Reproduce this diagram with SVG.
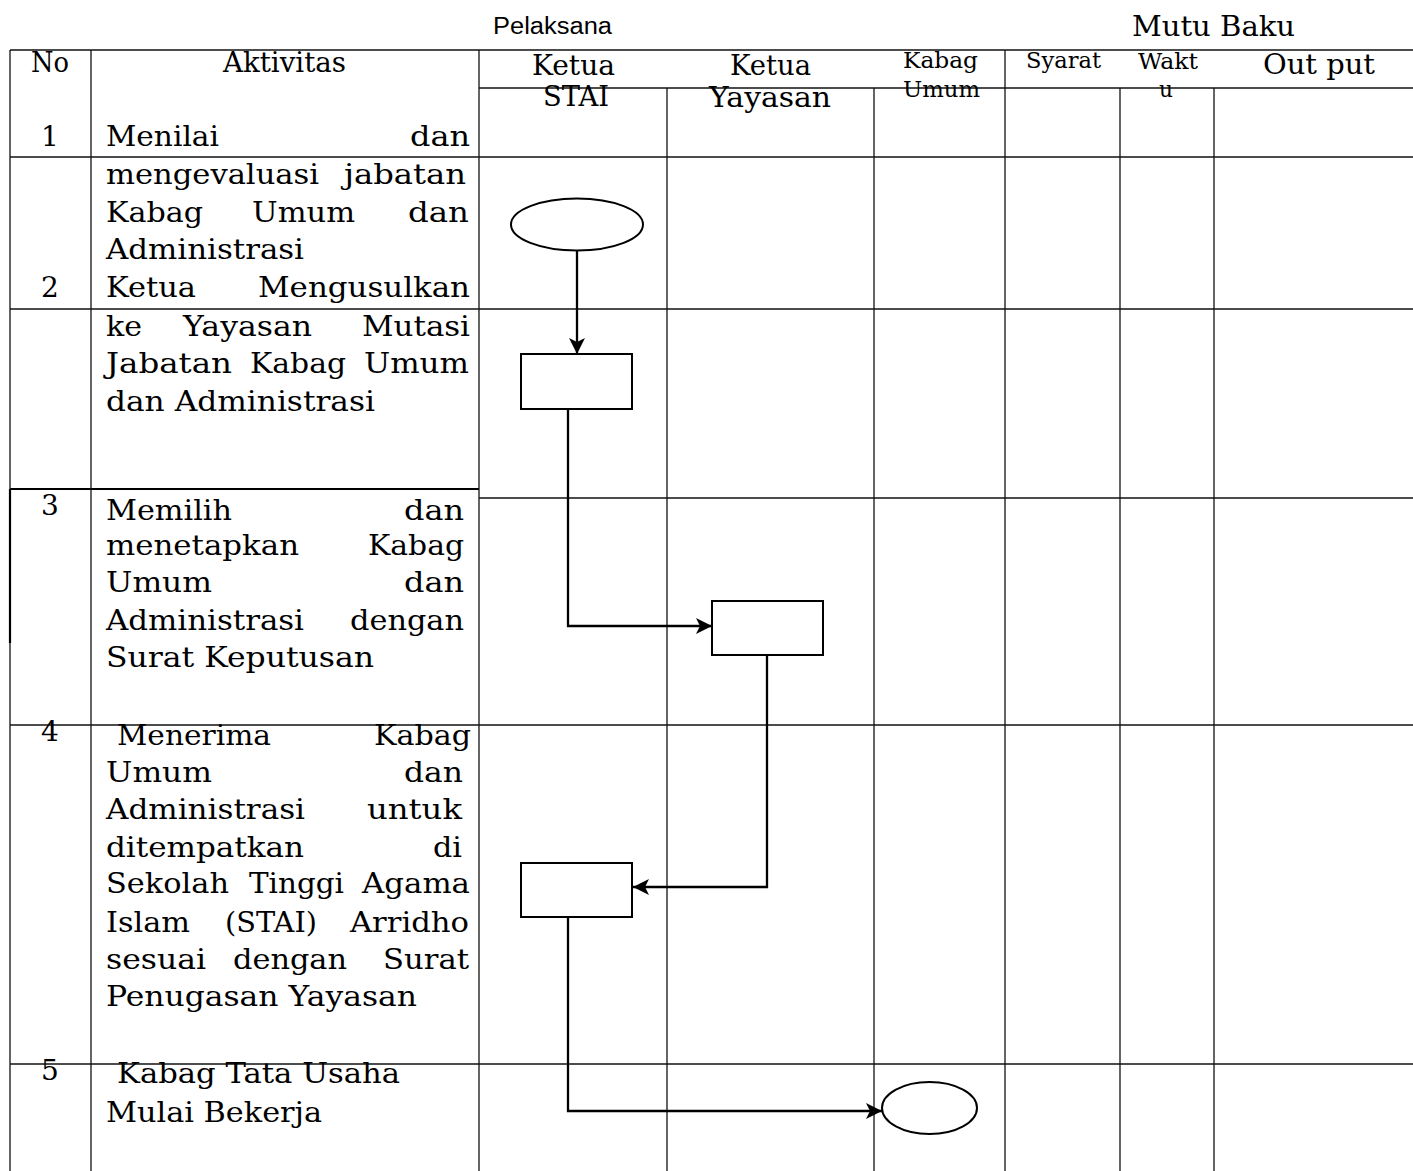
<svg xmlns="http://www.w3.org/2000/svg" width="1413" height="1171" viewBox="0 0 1413 1171">
<defs>
<marker id="ah" markerUnits="userSpaceOnUse" markerWidth="18" markerHeight="16" refX="16" refY="8" orient="auto">
<path d="M0,0 L16,8 L0,16 L4,8 Z" fill="#000"/>
</marker>
<style>
.grid{stroke:#111;stroke-width:1.3;fill:none}
.bold{stroke:#000;stroke-width:2.2;fill:none}
.flow{stroke:#000;stroke-width:2.3;fill:none}
.shape{fill:#fff;stroke:#000;stroke-width:2}
.t{font-family:"DejaVu Serif","Liberation Serif",serif;font-size:28px;fill:#000}
.h{font-family:"DejaVu Serif","Liberation Serif",serif;font-size:28px;fill:#000}
.s{font-family:"DejaVu Serif","Liberation Serif",serif;font-size:23px;fill:#000}
.p{font-family:"Liberation Sans","Open Sans",sans-serif;font-size:23px;fill:#000}
</style>
</defs>
<rect width="1413" height="1171" fill="#fff"/>

<g id="table">
<line class="grid" x1="10" y1="50" x2="1413" y2="50"/>
<line class="grid" x1="479" y1="88" x2="1413" y2="88"/>
<line class="grid" x1="10" y1="157" x2="1413" y2="157"/>
<line class="grid" x1="10" y1="309" x2="1413" y2="309"/>
<line class="bold" x1="10" y1="489" x2="479" y2="489"/>
<line class="grid" x1="479" y1="498" x2="1413" y2="498"/>
<line class="grid" x1="10" y1="725" x2="1413" y2="725"/>
<line class="grid" x1="10" y1="1064" x2="1413" y2="1064"/>
<line class="grid" x1="10" y1="50" x2="10" y2="1171"/>
<line class="bold" x1="10" y1="489" x2="10" y2="643"/>
<line class="grid" x1="91" y1="50" x2="91" y2="1171"/>
<line class="grid" x1="479" y1="50" x2="479" y2="1171"/>
<line class="grid" x1="667" y1="88" x2="667" y2="1171"/>
<line class="grid" x1="874" y1="88" x2="874" y2="1171"/>
<line class="grid" x1="1005" y1="50" x2="1005" y2="1171"/>
<line class="grid" x1="1120" y1="88" x2="1120" y2="1171"/>
<line class="grid" x1="1214" y1="88" x2="1214" y2="1171"/>
</g>

<g id="headers">
<text class="p" x="493" y="34" textLength="119" lengthAdjust="spacingAndGlyphs">Pelaksana</text>
<text class="h" x="1132" y="36" textLength="163" lengthAdjust="spacingAndGlyphs">Mutu Baku</text>
<text class="h" x="31" y="72" textLength="38" lengthAdjust="spacingAndGlyphs">No</text>
<text class="h" x="223" y="72" textLength="123" lengthAdjust="spacingAndGlyphs">Aktivitas</text>
<text class="h" x="532" y="75" textLength="83" lengthAdjust="spacingAndGlyphs">Ketua</text>
<text class="h" x="543" y="106" textLength="66" lengthAdjust="spacingAndGlyphs">STAI</text>
<text class="h" x="730" y="75" textLength="81" lengthAdjust="spacingAndGlyphs">Ketua</text>
<text class="h" x="709" y="107" textLength="122" lengthAdjust="spacingAndGlyphs">Yayasan</text>
<text class="s" x="903" y="68" textLength="75" lengthAdjust="spacingAndGlyphs">Kabag</text>
<text class="s" x="903" y="97" textLength="77" lengthAdjust="spacingAndGlyphs">Umum</text>
<text class="s" x="1026" y="68" textLength="75" lengthAdjust="spacingAndGlyphs">Syarat</text>
<text class="s" x="1138" y="69" textLength="60" lengthAdjust="spacingAndGlyphs">Wakt</text>
<text class="s" x="1159" y="97" textLength="14" lengthAdjust="spacingAndGlyphs">u</text>
<text class="h" x="1263" y="74" textLength="112" lengthAdjust="spacingAndGlyphs">Out put</text>
</g>

<g id="numbers" class="h">
<text x="50" y="146" text-anchor="middle">1</text>
<text x="50" y="297" text-anchor="middle">2</text>
<text x="50" y="515" text-anchor="middle">3</text>
<text x="50" y="741" text-anchor="middle">4</text>
<text x="50" y="1080" text-anchor="middle">5</text>
</g>

<g id="activities" class="t">
<text x="106" y="146" textLength="113" lengthAdjust="spacingAndGlyphs">Menilai</text>
<text x="410" y="146" textLength="60" lengthAdjust="spacingAndGlyphs">dan</text>

<text x="106" y="184" textLength="213" lengthAdjust="spacingAndGlyphs">mengevaluasi</text>
<text x="344" y="184" textLength="122" lengthAdjust="spacingAndGlyphs">jabatan</text>
<text x="106" y="222" textLength="97" lengthAdjust="spacingAndGlyphs">Kabag</text>
<text x="252" y="222" textLength="103" lengthAdjust="spacingAndGlyphs">Umum</text>
<text x="408" y="222" textLength="61" lengthAdjust="spacingAndGlyphs">dan</text>
<text x="106" y="259" textLength="198" lengthAdjust="spacingAndGlyphs">Administrasi</text>
<text x="106" y="297" textLength="90" lengthAdjust="spacingAndGlyphs">Ketua</text>
<text x="258" y="297" textLength="212" lengthAdjust="spacingAndGlyphs">Mengusulkan</text>
<text x="106" y="336" textLength="36" lengthAdjust="spacingAndGlyphs">ke</text>
<text x="183" y="336" textLength="129" lengthAdjust="spacingAndGlyphs">Yayasan</text>
<text x="362" y="336" textLength="108" lengthAdjust="spacingAndGlyphs">Mutasi</text>
<text x="106" y="373" textLength="126" lengthAdjust="spacingAndGlyphs">Jabatan</text>
<text x="250" y="373" textLength="96" lengthAdjust="spacingAndGlyphs">Kabag</text>
<text x="364" y="373" textLength="105" lengthAdjust="spacingAndGlyphs">Umum</text>
<text x="106" y="411" textLength="269" lengthAdjust="spacingAndGlyphs">dan Administrasi</text>

<text x="106" y="520" textLength="126" lengthAdjust="spacingAndGlyphs">Memilih</text>
<text x="404" y="520" textLength="60" lengthAdjust="spacingAndGlyphs">dan</text>
<text x="106" y="555" textLength="193" lengthAdjust="spacingAndGlyphs">menetapkan</text>
<text x="368" y="555" textLength="96" lengthAdjust="spacingAndGlyphs">Kabag</text>
<text x="106" y="592" textLength="106" lengthAdjust="spacingAndGlyphs">Umum</text>
<text x="404" y="592" textLength="60" lengthAdjust="spacingAndGlyphs">dan</text>
<text x="106" y="630" textLength="198" lengthAdjust="spacingAndGlyphs">Administrasi</text>
<text x="350" y="630" textLength="114" lengthAdjust="spacingAndGlyphs">dengan</text>
<text x="106" y="667" textLength="268" lengthAdjust="spacingAndGlyphs">Surat Keputusan</text>

<text x="117" y="745" textLength="154" lengthAdjust="spacingAndGlyphs">Menerima</text>
<text x="374" y="745" textLength="97" lengthAdjust="spacingAndGlyphs">Kabag</text>
<text x="106" y="782" textLength="106" lengthAdjust="spacingAndGlyphs">Umum</text>
<text x="404" y="782" textLength="59" lengthAdjust="spacingAndGlyphs">dan</text>
<text x="106" y="819" textLength="199" lengthAdjust="spacingAndGlyphs">Administrasi</text>
<text x="367" y="819" textLength="95" lengthAdjust="spacingAndGlyphs">untuk</text>
<text x="106" y="857" textLength="198" lengthAdjust="spacingAndGlyphs">ditempatkan</text>
<text x="433" y="857" textLength="29" lengthAdjust="spacingAndGlyphs">di</text>
<text x="106" y="893" textLength="123" lengthAdjust="spacingAndGlyphs">Sekolah</text>
<text x="249" y="893" textLength="95" lengthAdjust="spacingAndGlyphs">Tinggi</text>
<text x="362" y="893" textLength="108" lengthAdjust="spacingAndGlyphs">Agama</text>
<text x="106" y="932" textLength="84" lengthAdjust="spacingAndGlyphs">Islam</text>
<text x="225" y="932" textLength="92" lengthAdjust="spacingAndGlyphs">(STAI)</text>
<text x="350" y="932" textLength="119" lengthAdjust="spacingAndGlyphs">Arridho</text>
<text x="106" y="969" textLength="100" lengthAdjust="spacingAndGlyphs">sesuai</text>
<text x="233" y="969" textLength="114" lengthAdjust="spacingAndGlyphs">dengan</text>
<text x="383" y="969" textLength="86" lengthAdjust="spacingAndGlyphs">Surat</text>
<text x="106" y="1006" textLength="311" lengthAdjust="spacingAndGlyphs">Penugasan Yayasan</text>

<text x="117" y="1083" textLength="283" lengthAdjust="spacingAndGlyphs">Kabag Tata Usaha</text>
<text x="106" y="1122" textLength="216" lengthAdjust="spacingAndGlyphs">Mulai Bekerja</text>
</g>

<g id="connectors">
<path class="flow" d="M577,251 L577,354" marker-end="url(#ah)"/>
<path class="flow" d="M568,409 L568,626 L712,626" marker-end="url(#ah)"/>
<path class="flow" d="M767,655 L767,887 L633,887" marker-end="url(#ah)"/>
<path class="flow" d="M568,917 L568,1111 L882,1111" marker-end="url(#ah)"/>
</g>

<g id="n-start"><ellipse class="shape" cx="577" cy="224.5" rx="66" ry="26"/></g>
<g id="n-usul"><rect class="shape" x="521" y="354" width="111" height="55"/></g>
<g id="n-yayasan"><rect class="shape" x="712" y="601" width="111" height="54"/></g>
<g id="n-terima"><rect class="shape" x="521" y="863" width="111" height="54"/></g>
<g id="n-end"><ellipse class="shape" cx="929.5" cy="1108" rx="47.5" ry="26"/></g>
</svg>
